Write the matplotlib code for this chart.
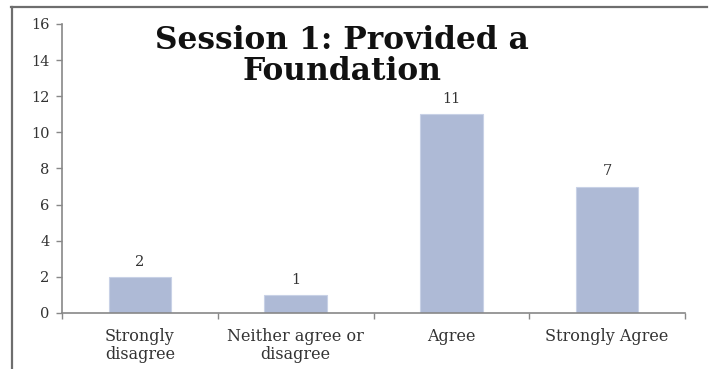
import matplotlib.pyplot as plt
from matplotlib.lines import Line2D

# Survey responses for session 1
categories = ['Strongly\ndisagree', 'Neither agree or\ndisagree', 'Agree', 'Strongly Agree']
counts = [2, 1, 11, 7]
yticks = [0, 2, 4, 6, 8, 10, 12, 14, 16]

plt.rcParams['font.family'] = 'DejaVu Serif'

fig = plt.figure(figsize=(7.11, 3.69), dpi=100)
ax = fig.add_axes([62 / 711, 1 - 313 / 369, 623 / 711, 289 / 369])

x = list(range(len(categories)))
bars = ax.bar(x, counts, width=0.4, color='#aebad6', edgecolor='#c8d1e6', linewidth=0.8, zorder=2)

for xi, v in zip(x, counts):
    ax.annotate(str(v), (xi, v), xytext=(0, 6), textcoords='offset points',
                ha='center', va='bottom', fontsize=10.5, color='#333333')

ax.set_xlim(-0.5, len(categories) - 0.5)
ax.set_ylim(0, 16)
ax.set_yticks(yticks)
ax.tick_params(axis='y', labelsize=10.5, colors='#888888', labelcolor='#333333',
               length=4, width=1, direction='out', pad=5)

# category labels between boundary ticks
ax.set_xticks([i - 0.5 for i in range(len(categories) + 1)])
ax.set_xticklabels([])
ax.set_xticks(x, minor=True)
ax.set_xticklabels(categories, minor=True, fontsize=11.5, color='#333333', linespacing=1.05)
ax.tick_params(axis='x', which='major', length=4, width=1, colors='#888888', direction='out')
ax.tick_params(axis='x', which='minor', length=0, pad=11)

for side in ['top', 'right']:
    ax.spines[side].set_visible(False)
for side in ['left', 'bottom']:
    ax.spines[side].set_color('#888888')
    ax.spines[side].set_linewidth(1.2)

fig.text(342 / 711, 1 - 56 / 369, 'Session 1: Provided a\nFoundation', ha='center', va='center',
         fontsize=22.5, fontweight='bold', color='#111111', linespacing=1.0)

# outer frame, top and left edges only
fig.add_artist(Line2D([11 / 711, 707 / 711], [1 - 6.5 / 369, 1 - 6.5 / 369], color='#6e6e6e', lw=1.6))
fig.add_artist(Line2D([11.5 / 711, 11.5 / 711], [0, 1 - 6.5 / 369], color='#6e6e6e', lw=1.6))

fig.savefig('out.png', dpi=100)
